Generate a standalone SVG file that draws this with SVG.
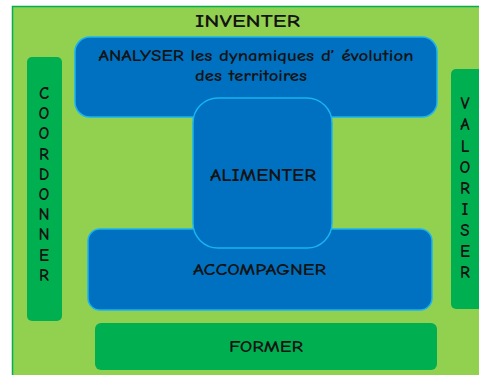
<svg xmlns="http://www.w3.org/2000/svg" width="479" height="375" viewBox="0 0 479 375">
<style>
text{font-family:"Comic Neue","Open Sans","DejaVu Sans",sans-serif;font-weight:700;fill:#141414;text-anchor:middle}
.blue{fill:#0070c0;stroke:#19b4f0;stroke-width:1.5}
.dg{fill:#00b050}
.v{font-size:17px}
</style>
<rect width="479" height="375" fill="#ffffff"/>
<g id="background">
<rect x="12.5" y="6.5" width="480" height="380" fill="#92d050" stroke="#00b050" stroke-width="1.5"/>
<text x="247.5" y="27" font-size="17" textLength="105" lengthAdjust="spacingAndGlyphs">INVENTER</text>
</g>
<g id="coordonner">
<rect class="dg" x="27" y="57" width="35" height="264" rx="5"/>
<text class="v" x="44" y="99">C</text>
<text class="v" x="44" y="119.2">O</text>
<text class="v" x="44" y="139.4">O</text>
<text class="v" x="44" y="159.6">R</text>
<text class="v" x="44" y="179.8">D</text>
<text class="v" x="44" y="200">O</text>
<text class="v" x="44" y="220.2">N</text>
<text class="v" x="44" y="240.4">N</text>
<text class="v" x="44" y="260.6">E</text>
<text class="v" x="44" y="280.8">R</text>
</g>
<g id="valoriser">
<rect class="dg" x="451" y="69" width="40" height="240" rx="5"/>
<text class="v" x="465" y="109.3">V</text>
<text class="v" x="465" y="130.4">A</text>
<text class="v" x="465" y="151.5">L</text>
<text class="v" x="465" y="172.6">O</text>
<text class="v" x="465" y="193.7">R</text>
<text class="v" x="465" y="214.8">I</text>
<text class="v" x="465" y="235.9">S</text>
<text class="v" x="465" y="257">E</text>
<text class="v" x="465" y="278.1">R</text>
</g>
<g id="analyser">
<rect class="blue" x="75" y="37" width="362" height="80" rx="15"/>
<text x="256" y="61" font-size="15" textLength="315" lengthAdjust="spacingAndGlyphs">ANALYSER les dynamiques d’ évolution</text>
<text x="251" y="81" font-size="15" textLength="112" lengthAdjust="spacingAndGlyphs">des territoires</text>
</g>
<g id="accompagner">
<rect class="blue" x="88" y="229" width="344" height="81" rx="12"/>
<text x="259.5" y="275" font-size="16" textLength="133" lengthAdjust="spacingAndGlyphs">ACCOMPAGNER</text>
</g>
<g id="alimenter">
<rect class="blue" x="193" y="98" width="139" height="150" rx="25"/>
<text x="263" y="181" font-size="17" textLength="106" lengthAdjust="spacingAndGlyphs">ALIMENTER</text>
</g>
<g id="former">
<rect class="dg" x="95" y="323" width="342" height="47" rx="6"/>
<text x="266" y="352" font-size="16" textLength="74" lengthAdjust="spacingAndGlyphs">FORMER</text>
</g>
<g id="connectors"/>
</svg>
